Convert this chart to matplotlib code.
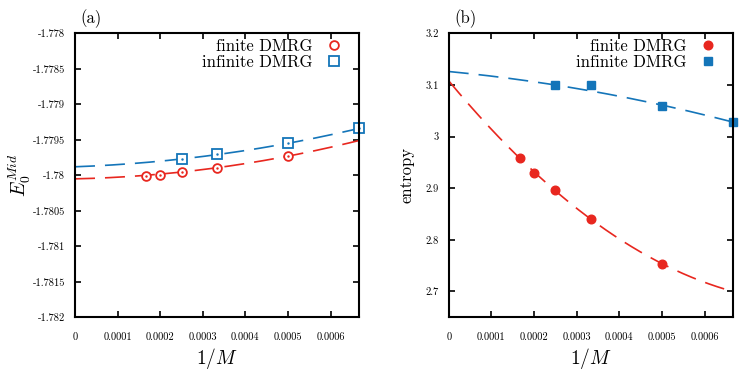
import numpy as np
import matplotlib
matplotlib.use("Agg")
import matplotlib.pyplot as plt

plt.rcParams['font.family'] = ['cmr10', 'DejaVu Serif']
plt.rcParams['mathtext.fontset'] = 'cm'
plt.rcParams['axes.unicode_minus'] = False

red = '#e8271f'
blue = '#1475b9'

# 1/M values
x_fin = [1/6000, 1/5000, 1/4000, 1/3000, 1/2000]
x_inf = [1/4000, 1/3000, 1/2000, 1/1500]

# panel (a): ground state energy
e_fin = [-1.78001, -1.77999, -1.77996, -1.77990, -1.77973]
e_inf = [-1.77977, -1.77970, -1.77954, -1.77934]
# quadratic fits a + b x + c x^2
efit_fin = [-1.78005, 0.13, 1020.0]
efit_inf = [-1.77988, 0.218, 888.0]

# panel (b): entropy
s_fin = [2.958, 2.930, 2.896, 2.8395, 2.754]
s_inf = [3.100, 3.100, 3.059, 3.0285]
sfit_fin = [3.108, -996.0, 576000.0]
sfit_inf = [3.126, -79.0, -102000.0]

xticks = [0, 0.0001, 0.0002, 0.0003, 0.0004, 0.0005, 0.0006]
xlabels = ['0', '0.0001', '0.0002', '0.0003', '0.0004', '0.0005', '0.0006']
eticks = [-1.782, -1.7815, -1.781, -1.7805, -1.78, -1.7795, -1.779, -1.7785, -1.778]
elabels = ['-1.782', '-1.7815', '-1.781', '-1.7805', '-1.78', '-1.7795', '-1.779', '-1.7785', '-1.778']
sticks = [2.7, 2.8, 2.9, 3.0, 3.1, 3.2]
slabels = ['2.7', '2.8', '2.9', '3', '3.1', '3.2']

xmax = 1/1500
xx = np.linspace(0, xmax, 200)

def fit(c, x):
    return c[0] + c[1]*x + c[2]*x**2

fig = plt.figure(figsize=(7.48, 3.74), dpi=100)
ax1 = fig.add_axes([75/748, 1-317.3/374, 284/748, 284/374])
ax2 = fig.add_axes([448.7/748, 1-317.3/374, 284.3/748, 284/374])

dash = (0, (12, 6))

# (a)
ax1.plot(xx, fit(efit_fin, xx), color=red, lw=1.2, ls=dash)
ax1.plot(xx, fit(efit_inf, xx), color=blue, lw=1.2, ls=dash)
ax1.plot(x_fin, e_fin, ls='none', marker='o', ms=6.3, mfc='white', mec=red, mew=1.3,
         label='finite DMRG', clip_on=False)
ax1.plot(x_fin, e_fin, ls='none', marker='.', ms=1.5, color=red, clip_on=False)
ax1.plot(x_inf, e_inf, ls='none', marker='s', ms=6.5, mfc='white', mec=blue, mew=1.3,
         label='infinite DMRG', clip_on=False)
ax1.plot(x_inf, e_inf, ls='none', marker='.', ms=1.5, color=blue, clip_on=False)
ax1.set_ylim(-1.782, -1.778)
ax1.set_yticks(eticks)
ax1.set_yticklabels(elabels)
ax1.set_ylabel(r'$E_0^{Mid}$', fontsize=14, labelpad=0)
ax1.text(0.02, 1.02, '(a)', transform=ax1.transAxes, fontsize=12, ha='left', va='bottom')

# (b)
ax2.plot(xx, fit(sfit_fin, xx), color=red, lw=1.2, ls=dash)
ax2.plot(xx, fit(sfit_inf, xx), color=blue, lw=1.2, ls=dash)
ax2.plot(x_fin, s_fin, ls='none', marker='o', ms=6.2, color=red, label='finite DMRG', clip_on=False)
ax2.plot(x_inf, s_inf, ls='none', marker='s', ms=6, color=blue, label='infinite DMRG', clip_on=False)
ax2.set_ylim(2.65, 3.2)
ax2.set_yticks(sticks)
ax2.set_yticklabels(slabels)
ax2.set_ylabel('entropy', fontsize=12, labelpad=8)
ax2.text(0.02, 1.02, '(b)', transform=ax2.transAxes, fontsize=12, ha='left', va='bottom')

for ax in (ax1, ax2):
    ax.set_xlim(0, xmax)
    ax.set_xticks(xticks)
    ax.set_xticklabels(xlabels)
    ax.set_xlabel(r'$1/M$', fontsize=14, labelpad=3)
    ax.tick_params(direction='in', top=True, right=True, length=4, width=1.2,
                   labelsize=7.5, pad=11)
    ax.tick_params(axis='y', pad=7)
    for s in ax.spines.values():
        s.set_linewidth(1.5)
    leg = ax.legend(loc='upper right', frameon=False, markerfirst=False, fontsize=12,
                    handlelength=1.0, handletextpad=0.8, borderaxespad=0.0,
                    labelspacing=0.05, borderpad=0.3,
                    bbox_to_anchor=(0.96, 1.0))

fig.savefig('out.png', dpi=100)
